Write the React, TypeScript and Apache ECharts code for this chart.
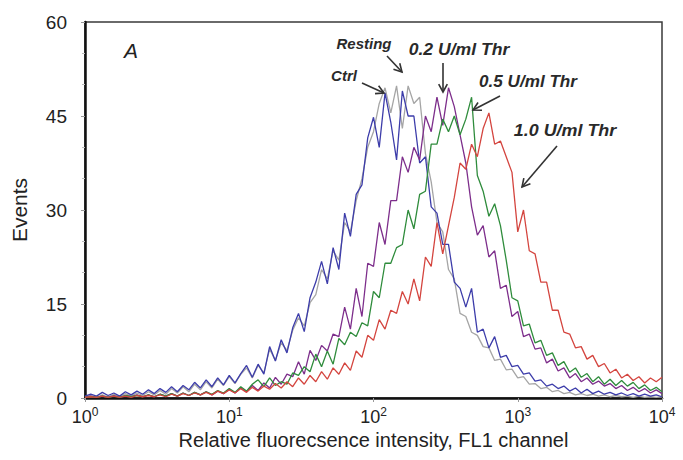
import React, { useEffect, useRef } from "react";
import * as echarts from "echarts";

// Log-spaced FL1 channels (4 decades)
const channels = [
  1, 1.096, 1.202, 1.318, 1.445, 1.585, 1.738, 1.905, 2.089, 2.291, 2.512, 2.754, 3.02, 3.311, 3.631, 3.981, 4.365, 4.786, 5.248, 5.754, 6.31, 6.918, 7.586, 8.318, 9.12,
  10, 10.96, 12.02, 13.18, 14.45, 15.85, 17.38, 19.05, 20.89, 22.91, 25.12, 27.54, 30.2, 33.11, 36.31, 39.81, 43.65, 47.86, 52.48, 57.54, 63.1, 69.18, 75.86, 83.18, 91.2,
  100, 109.6, 120.2, 131.8, 144.5, 158.5, 173.8, 190.5, 208.9, 229.1, 251.2, 275.4, 302, 331.1, 363.1, 398.1, 436.5, 478.6, 524.8, 575.4, 631, 691.8, 758.6, 831.8, 912,
  1000, 1096, 1202, 1318, 1445, 1585, 1738, 1905, 2089, 2291, 2512, 2754, 3020, 3311, 3631, 3981, 4365, 4786, 5248, 5754, 6310, 6918, 7586, 8318, 9120,
  10000,
];

const restingEvents = [
  0.2, 0.4, 0.1, 0.5, 0.2, 0.6, 0.2, 0.7, 0.3, 0.8, 0.4,
  1.0, 0.5, 1.2, 0.6, 1.5, 0.8, 1.8, 1.0, 2.2, 1.3,
  2.6, 1.6, 3.0, 2.0, 3.4, 2.3, 3.8, 4.8, 3.2, 5.2,
  4.0, 7.8, 6.0, 8.8, 7.6, 10.8, 12.8, 11.5, 15.2, 16.5,
  20.5, 19.0, 23.5, 22.0, 28.0, 26.5, 31.5, 35.0, 40.0, 42.5,
  47.0, 49.5, 45.5, 49.8, 43.0, 49.8, 47.0, 48.0, 39.0, 34.5,
  28.0, 26.5, 20.5, 19.0, 13.5, 13.0, 10.5, 10.0, 8.2, 8.0,
  6.0, 6.2, 4.5, 4.6, 3.2, 3.4, 2.2, 2.3, 1.5, 1.7,
  1.0, 1.2, 0.7, 0.9, 0.5, 0.7, 0.4, 0.6, 0.3, 0.5,
  0.2, 0.4, 0.2, 0.3, 0.1, 0.3, 0.1, 0.2, 0.1, 0.2,
];

const ctrlEvents = [
  0.3, 0.6, 0.3, 0.9, 0.4, 0.8, 0.3, 1.0, 0.5, 1.1, 0.6,
  1.3, 0.7, 1.5, 0.9, 1.8, 1.0, 2.0, 1.3, 2.5, 1.6,
  2.9, 1.8, 3.2, 2.1, 3.6, 2.4, 3.9, 5.2, 3.3, 5.4,
  3.8, 8.2, 5.9, 9.3, 7.2, 11.2, 13.5, 10.6, 16.0, 18.5,
  21.8, 18.2, 24.0, 20.5, 29.5, 25.8, 32.5, 34.0, 41.5, 44.8,
  40.0, 48.7, 44.0, 38.0, 49.0, 45.0, 45.0, 37.5, 38.5, 30.5,
  29.5, 24.5, 24.5, 18.5, 17.5, 14.5, 17.5, 10.5, 11.0, 8.0,
  9.8, 6.5, 6.8, 5.0, 5.2, 3.8, 4.0, 2.7, 2.9, 1.9,
  2.2, 1.5, 1.9, 1.1, 1.6, 0.8, 1.4, 0.7, 1.1, 0.6,
  0.9, 0.5, 0.8, 0.4, 0.7, 0.3, 0.6, 0.3, 0.5, 0.2,
];

const thr02Events = [
  0.1, 0.3, 0.1, 0.3, 0.1, 0.4, 0.1, 0.4, 0.2, 0.5, 0.2,
  0.5, 0.2, 0.6, 0.3, 0.7, 0.3, 0.8, 0.4, 0.9, 0.5,
  1.0, 0.5, 1.1, 0.7, 1.4, 0.8, 1.6, 1.0, 2.0, 1.2,
  2.4, 1.6, 3.3, 2.2, 3.8, 3.4, 5.8, 3.8, 7.6, 6.0,
  8.4, 7.5, 10.2, 9.8, 14.5, 11.0, 17.5, 13.0, 21.5, 21.0,
  28.0, 24.5, 31.5, 31.5, 38.5, 36.0, 40.0, 38.0, 45.0, 42.5,
  48.0, 43.5, 49.5, 46.5, 42.0, 37.5, 30.5, 26.0, 27.5, 22.5,
  23.5, 17.5, 18.0, 13.0, 13.8, 9.8, 10.2, 7.8, 8.0, 5.6,
  6.2, 4.3, 4.8, 3.2, 3.9, 2.6, 3.2, 2.2, 2.7, 1.9,
  2.3, 1.5, 2.0, 1.2, 1.7, 1.0, 1.5, 0.8, 1.3, 0.7,
];

const thr05Events = [
  0.1, 0.2, 0.1, 0.3, 0.1, 0.3, 0.1, 0.4, 0.2, 0.4, 0.2,
  0.5, 0.2, 0.6, 0.3, 0.7, 0.3, 0.8, 0.4, 0.9, 0.5,
  1.0, 0.6, 1.2, 0.8, 1.5, 0.9, 1.8, 1.1, 2.2, 2.9,
  1.8, 3.2, 2.0, 2.6, 2.2, 4.0, 3.6, 5.0, 4.2, 7.0,
  5.0, 7.5, 5.4, 9.5, 8.5, 10.5, 9.8, 12.0, 11.5, 17.0,
  16.0, 21.5, 21.5, 24.0, 24.5, 30.0, 27.0, 32.5, 33.0, 40.5,
  40.5, 44.5, 42.5, 45.0, 42.0, 44.5, 48.0, 35.5, 33.0, 29.0,
  31.0, 27.5, 22.0, 16.0, 15.5, 11.5, 11.8, 8.8, 9.2, 6.8,
  7.2, 5.2, 5.8, 4.1, 4.8, 3.3, 3.9, 2.6, 3.4, 2.2,
  3.0, 2.0, 2.8, 1.9, 2.5, 1.5, 2.1, 1.2, 1.7, 1.0,
];

const thr10Events = [
  0.1, 0.2, 0.1, 0.3, 0.1, 0.3, 0.1, 0.3, 0.1, 0.4, 0.2,
  0.4, 0.2, 0.5, 0.2, 0.6, 0.3, 0.7, 0.4, 0.8, 0.5,
  0.9, 0.5, 1.1, 0.7, 1.3, 0.8, 1.5, 0.9, 1.7, 1.1,
  1.9, 1.4, 2.3, 1.6, 2.6, 1.8, 3.2, 2.2, 3.6, 2.6,
  4.2, 3.0, 4.8, 3.8, 5.6, 4.4, 7.5, 6.5, 10.0, 9.2,
  12.5, 11.0, 14.0, 13.5, 17.0, 15.0, 19.0, 15.5, 22.5, 21.0,
  28.0, 23.0, 27.5, 32.0, 37.5, 36.5, 40.5, 38.5, 43.0, 45.5,
  40.5, 41.0, 38.5, 36.0, 26.5, 30.0, 23.5, 23.0, 18.5, 18.5,
  14.0, 14.0, 10.5, 10.2, 8.0, 8.2, 6.2, 6.8, 5.0, 5.5,
  4.0, 4.6, 3.2, 3.8, 2.8, 3.4, 2.4, 3.2, 2.6, 3.3,
];

const seriesNames = ["Resting", "Ctrl", "0.2 U/ml Thr", "0.5 U/ml Thr", "1.0 U/ml Thr"];
const seriesColors = ["#a5a5a5", "#3d3daa", "#7d2e8b", "#2f8c3c", "#d4453f"];
const seriesValues = [restingEvents, ctrlEvents, thr02Events, thr05Events, thr10Events];

const yTicks = [0, 15, 30, 45, 60];

const FONT = "'Liberation Sans', Arial, Helvetica, sans-serif";

type Ann = { text: string; cx: number; cy: number; size: number; sx: number; from: [number, number]; to: [number, number] };
const annotations: Ann[] = [
  { text: "Ctrl", cx: 344, cy: 75, size: 15, sx: 1.0, from: [362, 83], to: [384, 93] },
  { text: "Resting", cx: 364, cy: 43, size: 15, sx: 1.0, from: [387, 56], to: [402, 72] },
  { text: "0.2 U/ml Thr", cx: 459, cy: 50, size: 16, sx: 1.1, from: [443, 63], to: [443, 92] },
  { text: "0.5 U/ml Thr", cx: 528, cy: 82, size: 16, sx: 1.07, from: [500, 96], to: [473, 110] },
  { text: "1.0 U/ml Thr", cx: 565, cy: 131, size: 16, sx: 1.12, from: [557, 146], to: [522, 187] },
];

function arrowGraphics(a: Ann) {
  const [x1, y1] = a.from;
  const [x2, y2] = a.to;
  const ang = Math.atan2(y2 - y1, x2 - x1);
  const L = 9;
  const w = 0.5;
  const p1 = [x2 - L * Math.cos(ang - w), y2 - L * Math.sin(ang - w)];
  const p2 = [x2 - L * Math.cos(ang + w), y2 - L * Math.sin(ang + w)];
  return [
    {
      type: "line",
      shape: { x1, y1, x2, y2 },
      style: { stroke: "#333", lineWidth: 1.6 },
      z: 100,
    },
    {
      type: "polyline",
      shape: { points: [p1, [x2, y2], p2] },
      style: { stroke: "#333", lineWidth: 1.6, fill: null },
      z: 100,
    },
    {
      type: "text",
      x: a.cx,
      y: a.cy,
      scaleX: a.sx,
      style: {
        text: a.text,
        fontFamily: FONT,
        fontSize: a.size,
        fontWeight: "bold",
        fontStyle: "italic",
        fill: "#2a2a2a",
        align: "center",
        verticalAlign: "middle",
        textAlign: "center",
        textVerticalAlign: "middle",
      },
      z: 100,
    },
  ];
}

export default function App() {
  const ref = useRef<HTMLDivElement>(null);
  useEffect(() => {
    if (!ref.current) return;
    const chart = echarts.init(ref.current, undefined, { renderer: "svg" });
    const graphics: any[] = [];
    annotations.forEach((a) => graphics.push(...arrowGraphics(a)));
    graphics.push({
      type: "text",
      x: 131,
      y: 50,
      style: {
        text: "A",
        fontFamily: FONT,
        fontSize: 21,
        fontStyle: "italic",
        fill: "#222",
        align: "center",
        verticalAlign: "middle",
        textAlign: "center",
        textVerticalAlign: "middle",
      },
      z: 100,
    });
    chart.setOption({
      animation: false,
      backgroundColor: "#ffffff",
      grid: {
        left: 85,
        right: 21,
        top: 22,
        bottom: 62,
        show: true,
        borderColor: "#3a3a3a",
        borderWidth: 1.5,
        backgroundColor: "transparent",
      },
      xAxis: {
        type: "log",
        logBase: 10,
        min: 1,
        max: 10000,
        name: "Relative fluorecsence intensity, FL1 channel",
        nameLocation: "middle",
        nameGap: 32,
        nameTextStyle: { fontFamily: FONT, fontSize: 20, color: "#222" },
        axisLine: { show: true, lineStyle: { color: "#111", width: 2.5 } },
        axisTick: { show: true, inside: false, length: 4, lineStyle: { color: "#999" } },
        splitLine: { show: false },
        axisLabel: {
          margin: 8,
          color: "#222",
          fontFamily: FONT,
          formatter: (v: number) => `{b|10}{s|${Math.round(Math.log10(v))}}`,
          rich: {
            b: { fontFamily: FONT, fontSize: 18, color: "#222" },
            s: { fontFamily: FONT, fontSize: 12, color: "#222", padding: [0, 0, 9, 0] },
          },
        },
      },
      yAxis: {
        type: "value",
        min: yTicks[0],
        max: yTicks[yTicks.length - 1],
        interval: 15,
        name: "Events",
        nameLocation: "middle",
        nameGap: 55,
        nameRotate: 90,
        nameTextStyle: { fontFamily: FONT, fontSize: 21, color: "#222" },
        axisLine: { show: true, lineStyle: { color: "#111", width: 2.5 } },
        axisTick: { show: true, inside: false, length: 4, lineStyle: { color: "#999" } },
        minorTick: { show: true, splitNumber: 3, length: 3, lineStyle: { color: "#bbb" } },
        splitLine: { show: false },
        axisLabel: { margin: 18, fontFamily: FONT, fontSize: 19, color: "#222" },
      },
      series: seriesNames.map((name, i) => ({
        name,
        type: "line",
        showSymbol: false,
        symbol: "none",
        data: channels.map((c, j) => [c, seriesValues[i][j]]),
        lineStyle: { color: seriesColors[i], width: 1.3 },
        itemStyle: { color: seriesColors[i] },
        z: 2 + i,
      })),
      graphic: graphics,
    });
    return () => chart.dispose();
  }, []);
  return (
    <div
      ref={ref}
      style={{ position: "absolute", left: 0, top: 0, width: 683, height: 460, background: "#fff" }}
    />
  );
}
